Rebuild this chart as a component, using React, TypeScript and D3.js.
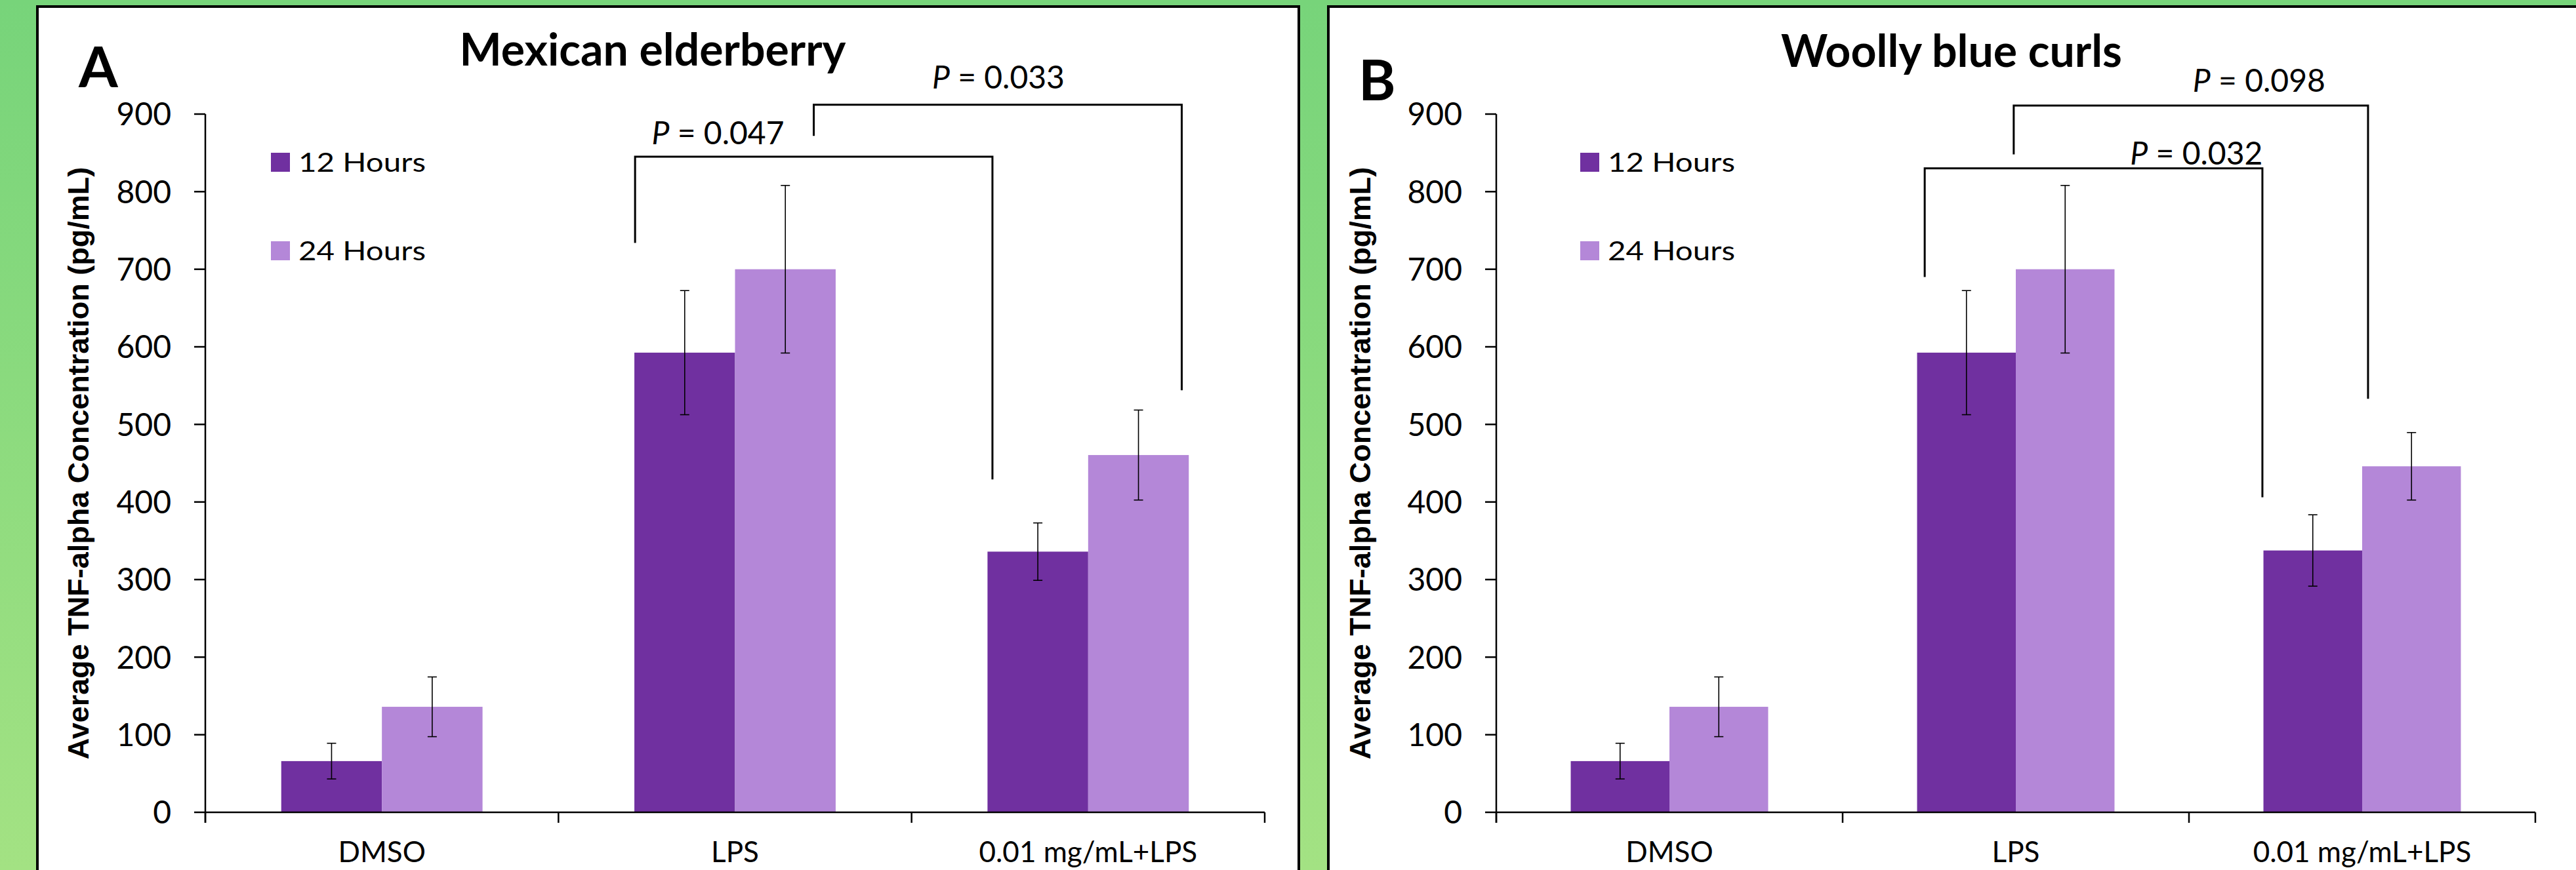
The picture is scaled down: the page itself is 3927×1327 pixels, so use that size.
import React from "react";
import * as d3 from "d3";

// ---------- data ----------
const categories = ["DMSO", "LPS", "0.01 mg/mL+LPS"];
const seriesNames = ["12 Hours", "24 Hours"];
const yTicks = [0, 100, 200, 300, 400, 500, 600, 700, 800, 900];

const elderberry12 = [66, 592.5, 336];
const elderberry12Err = [23, 80, 37];
const elderberry24 = [136, 700, 460.5];
const elderberry24Err = [38.5, 108, 58];

const bluecurls12 = [66, 592.5, 337.5];
const bluecurls12Err = [23, 80, 46];
const bluecurls24 = [136, 700, 446];
const bluecurls24Err = [38.5, 108, 43.5];

// significance brackets (category index + fraction across that category band, values in pg/mL)
const elderberryBrackets = [
  { from: 1, fromFrac: 0.217, to: 2, toFrac: 0.229, top: 845, leftEnd: 734, rightEnd: 429 },
  { from: 1, fromFrac: 0.723, to: 2, toFrac: 0.765, top: 912, leftEnd: 872, rightEnd: 544 },
];
const elderberryPLabels = [
  { value: "0.047", cat: 1, frac: 0.264, y: 861 },
  { value: "0.033", cat: 2, frac: 0.058, y: 933 },
];
const bluecurlsBrackets = [
  { from: 1, fromFrac: 0.237, to: 2, toFrac: 0.212, top: 830, leftEnd: 690, rightEnd: 406 },
  { from: 1, fromFrac: 0.494, to: 2, toFrac: 0.517, top: 911, leftEnd: 848, rightEnd: 533 },
];
const bluecurlsPLabels = [
  { value: "0.032", cat: 1, frac: 0.83, y: 835 },
  { value: "0.098", cat: 2, frac: 0.011, y: 929 },
];

const COLORS = ["#7030A0", "#B487D8"];
const FONT = "Lato, 'Open Sans', sans-serif";

function Panel(props: any) {
  const {
    frameX, frameW, axisX, plotRight, title, titleX, titleY, letter, letterX, letterY,
    legendX, v12, e12, v24, e24, brackets, pLabels, yLabelX,
  } = props;
  const y0 = 1239;
  const yTop = 174;
  const y = d3.scaleLinear().domain([0, 900]).range([y0, yTop]);
  const x = d3.scaleBand<number>().domain(categories.map((_, i) => i)).range([axisX, plotRight]).padding(0);
  const bw = x.bandwidth();
  const xs = d3.scaleBand<number>().domain([0, 1]).range([0.215 * bw, 0.785 * bw]).padding(0);
  const series = [
    { vals: v12, errs: e12 },
    { vals: v24, errs: e24 },
  ];
  const boundaries = categories.map((_, i) => x(i)!).concat([plotRight]);
  const catFracX = (c: number, f: number) => x(c)! + f * bw;

  return (
    <g>
      <rect x={frameX} y={10} width={frameW} height={1400} fill="#fff" stroke="#000" strokeWidth={4} />
      <text x={letterX} y={letterY} fontFamily={FONT} fontWeight={700} fontSize={86}>{letter}</text>
      <text x={titleX} y={titleY} fontFamily={FONT} fontWeight={700} fontSize={68} textAnchor="middle">{title}</text>

      {/* bars */}
      {series.map((s, si) =>
        categories.map((_, ci) => {
          const bx = x(ci)! + xs(si)!;
          return (
            <rect key={`b${si}-${ci}`} x={bx} y={y(s.vals[ci])} width={xs.bandwidth()} height={y0 - y(s.vals[ci])} fill={COLORS[si]} />
          );
        })
      )}
      {/* error bars */}
      {series.map((s, si) =>
        categories.map((_, ci) => {
          const cx = x(ci)! + xs(si)! + xs.bandwidth() / 2;
          const hi = y(s.vals[ci] + s.errs[ci]);
          const lo = y(s.vals[ci] - s.errs[ci]);
          return (
            <g key={`e${si}-${ci}`} stroke="#000" strokeWidth={1.6}>
              <line x1={cx} x2={cx} y1={hi} y2={lo} />
              <line x1={cx - 7} x2={cx + 7} y1={hi} y2={hi} />
              <line x1={cx - 7} x2={cx + 7} y1={lo} y2={lo} />
            </g>
          );
        })
      )}

      {/* y axis */}
      <line x1={axisX} x2={axisX} y1={y(900)} y2={y0 + 16} stroke="#000" strokeWidth={2.5} />
      {yTicks.map((t) => (
        <g key={`yt${t}`}>
          <line x1={axisX - 17} x2={axisX} y1={y(t)} y2={y(t)} stroke="#000" strokeWidth={2.5} />
          <text x={axisX - 52} y={y(t)} dy="0.36em" textAnchor="end" fontFamily={FONT} fontSize={48}>{t}</text>
        </g>
      ))}
      {/* x axis */}
      <line x1={axisX} x2={plotRight} y1={y0} y2={y0} stroke="#000" strokeWidth={2.5} />
      {boundaries.map((b, i) => (
        <line key={`xt${i}`} x1={b} x2={b} y1={y0} y2={y0 + 16} stroke="#000" strokeWidth={2.5} />
      ))}
      {categories.map((c, i) => (
        <text key={`xl${i}`} x={x(i)! + bw / 2} y={1315} textAnchor="middle" fontFamily={FONT} fontSize={44}>{c}</text>
      ))}

      {/* y label */}
      <text
        transform={`translate(${yLabelX},${(y(900) + y0) / 2}) rotate(-90)`}
        textAnchor="middle"
        fontFamily="'Liberation Sans', Arial, sans-serif"
        fontWeight={700}
        fontSize={45}
      >
        Average TNF-alpha Concentration (pg/mL)
      </text>

      {/* legend */}
      {seriesNames.map((n, i) => (
        <g key={`lg${i}`}>
          <rect x={legendX} y={233 + i * 135} width={29} height={29} fill={COLORS[i]} />
          <text x={legendX + 42} y={262 + i * 135} fontFamily={FONT} fontSize={40} textLength={194} lengthAdjust="spacingAndGlyphs">{n}</text>
        </g>
      ))}

      {/* brackets */}
      {brackets.map((b: any, i: number) => {
        const xl = catFracX(b.from, b.fromFrac);
        const xr = catFracX(b.to, b.toFrac);
        const path = d3.path();
        path.moveTo(xl, y(b.leftEnd));
        path.lineTo(xl, y(b.top));
        path.lineTo(xr, y(b.top));
        path.lineTo(xr, y(b.rightEnd));
        return <path key={`br${i}`} d={path.toString()} fill="none" stroke="#000" strokeWidth={3} />;
      })}
      {pLabels.map((p: any, i: number) => (
        <text key={`pl${i}`} x={catFracX(p.cat, p.frac)} y={y(p.y)} fontFamily={FONT} fontSize={48}>
          <tspan fontStyle="italic">P</tspan>
          {` = ${p.value}`}
        </text>
      ))}
    </g>
  );
}

export default function App() {
  const W = 3927;
  const H = 1327;
  return (
    <svg width={W} height={H} style={{ position: "absolute", left: 0, top: 0, display: "block" }}>
      <defs>
        <linearGradient id="bg" x1="0" y1="0" x2="0" y2="1">
          <stop offset="0" stopColor="#77D47A" />
          <stop offset="1" stopColor="#A3E283" />
        </linearGradient>
      </defs>
      <rect x={0} y={0} width={W} height={H} fill="url(#bg)" />
      <Panel
        frameX={57}
        frameW={1923}
        axisX={313}
        plotRight={1928}
        title="Mexican elderberry"
        titleX={995}
        titleY={100}
        letter="A"
        letterX={120}
        letterY={133}
        legendX={413}
        v12={elderberry12}
        e12={elderberry12Err}
        v24={elderberry24}
        e24={elderberry24Err}
        brackets={elderberryBrackets}
        pLabels={elderberryPLabels}
        yLabelX={135}
      />
      <Panel
        frameX={2025}
        frameW={2000}
        axisX={2281}
        plotRight={3865}
        title="Woolly blue curls"
        titleX={2975}
        titleY={102}
        letter="B"
        letterX={2071}
        letterY={153}
        legendX={2409}
        v12={bluecurls12}
        e12={bluecurls12Err}
        v24={bluecurls24}
        e24={bluecurls24Err}
        brackets={bluecurlsBrackets}
        pLabels={bluecurlsPLabels}
        yLabelX={2089}
      />
    </svg>
  );
}
